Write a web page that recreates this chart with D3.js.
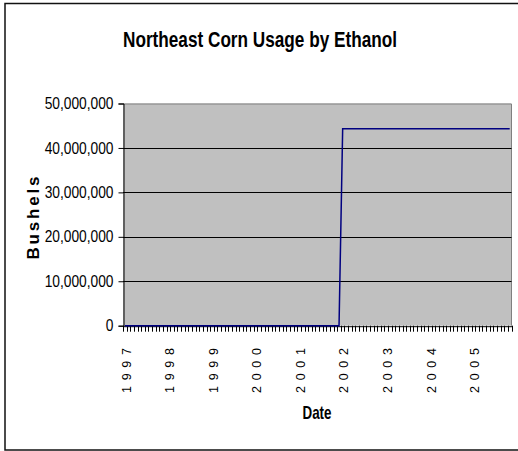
<!DOCTYPE html>
<html>
<head>
<meta charset="utf-8">
<script src="https://cdn.jsdelivr.net/npm/d3@7"></script>
<style>
html,body{margin:0;padding:0;background:#fff;overflow:hidden;}
svg{display:block;}
text{font-family:"Liberation Sans",Arial,sans-serif;fill:#000;}
</style>
</head>
<body>
<svg id="chart" width="518" height="451"></svg>
<script>
// Monthly categories, Jan 1997 – Nov 2005
const months = [
  "1997-01","1997-02","1997-03","1997-04","1997-05","1997-06","1997-07","1997-08","1997-09","1997-10","1997-11","1997-12",
  "1998-01","1998-02","1998-03","1998-04","1998-05","1998-06","1998-07","1998-08","1998-09","1998-10","1998-11","1998-12",
  "1999-01","1999-02","1999-03","1999-04","1999-05","1999-06","1999-07","1999-08","1999-09","1999-10","1999-11","1999-12",
  "2000-01","2000-02","2000-03","2000-04","2000-05","2000-06","2000-07","2000-08","2000-09","2000-10","2000-11","2000-12",
  "2001-01","2001-02","2001-03","2001-04","2001-05","2001-06","2001-07","2001-08","2001-09","2001-10","2001-11","2001-12",
  "2002-01","2002-02","2002-03","2002-04","2002-05","2002-06","2002-07","2002-08","2002-09","2002-10","2002-11","2002-12",
  "2003-01","2003-02","2003-03","2003-04","2003-05","2003-06","2003-07","2003-08","2003-09","2003-10","2003-11","2003-12",
  "2004-01","2004-02","2004-03","2004-04","2004-05","2004-06","2004-07","2004-08","2004-09","2004-10","2004-11","2004-12",
  "2005-01","2005-02","2005-03","2005-04","2005-05","2005-06","2005-07","2005-08","2005-09","2005-10","2005-11"
];
// Bushels of corn used for ethanol
const bushels = [
  0,0,0,0,0,0,0,0,0,0,0,0,
  0,0,0,0,0,0,0,0,0,0,0,0,
  0,0,0,0,0,0,0,0,0,0,0,0,
  0,0,0,0,0,0,0,0,0,0,0,0,
  0,0,0,0,0,0,0,0,0,0,0,0,
  44300000,44300000,44300000,44300000,44300000,44300000,44300000,44300000,44300000,44300000,44300000,44300000,
  44300000,44300000,44300000,44300000,44300000,44300000,44300000,44300000,44300000,44300000,44300000,44300000,
  44300000,44300000,44300000,44300000,44300000,44300000,44300000,44300000,44300000,44300000,44300000,44300000,
  44300000,44300000,44300000,44300000,44300000,44300000,44300000,44300000,44300000,44300000,44300000
];
const xTickMonths = ["1997-01","1998-01","1999-01","2000-01","2001-01","2002-01","2003-01","2004-01","2005-01"];
const xTickLabels = ["1997","1998","1999","2000","2001","2002","2003","2004","2005"];
const yTicks = [0,10000000,20000000,30000000,40000000,50000000];

const title = "Northeast Corn Usage by Ethanol";
const xTitle = "Date";
const yTitle = "Bushels";

const svg = d3.select("#chart");
const L = 123, R = 511.5, T = 103.5, B = 325.7;

// chart area border (right edge lies outside the picture)
svg.append("rect").attr("x",5).attr("y",3.5).attr("width",600).attr("height",446.5)
  .attr("fill","#fff").attr("stroke","#111").attr("stroke-width",1.5);

const x = d3.scaleBand().domain(months).range([L,R]).paddingInner(0).paddingOuter(0);
const y = d3.scaleLinear().domain([0,50000000]).range([B,T]);
const cx = d => x(d) + x.bandwidth()/2;

// plot area
svg.append("rect").attr("x",L).attr("y",T).attr("width",R-L).attr("height",B-T)
  .attr("fill","#C0C0C0");
svg.append("path").attr("d",`M${L},${T+0.5}H${R}V${B}`).attr("fill","none")
  .attr("stroke","#808080").attr("stroke-width",1);

// gridlines
svg.append("g").selectAll("line").data(yTicks.filter(v=>v>0 && v<50000000)).join("line")
  .attr("x1",L).attr("x2",R).attr("y1",d=>Math.round(y(d))+0.5).attr("y2",d=>Math.round(y(d))+0.5)
  .attr("stroke","#000").attr("stroke-width",1);

// y axis
const yAxis = svg.append("g").attr("transform",`translate(${L+0.5},0)`)
  .call(d3.axisLeft(y).tickValues(yTicks).tickFormat(d3.format(",")).tickSize(5).tickPadding(5));
yAxis.select(".domain").attr("stroke","#000");
yAxis.selectAll(".tick line").attr("stroke","#000");
yAxis.selectAll(".tick text").attr("font-size",16).attr("font-family",null).attr("fill","#000")
  .each(function(){ const w=this.getComputedTextLength(); d3.select(this).attr("textLength",w*0.86).attr("lengthAdjust","spacingAndGlyphs"); });

// x axis
const xAxis = svg.append("g").attr("transform",`translate(0,${B+0.5})`)
  .call(d3.axisBottom(x).tickValues([]).tickSize(0).tickSizeOuter(0));
xAxis.select(".domain").attr("stroke","#000");
// tick marks at category boundaries
svg.append("g").selectAll("line").data(months.concat(["end"])).join("line")
  .attr("x1",(d,i)=>Math.round(L + i*x.bandwidth())+0.5)
  .attr("x2",(d,i)=>Math.round(L + i*x.bandwidth())+0.5)
  .attr("y1",B).attr("y2",B+6).attr("stroke","#000").attr("stroke-width",1);
// year labels
svg.append("g").selectAll("text").data(xTickMonths).join("text")
  .attr("transform",d=>`translate(${cx(d)+1.2},348) rotate(-90)`)
  .attr("text-anchor","end").attr("dy","0.36em").attr("font-size",12.5)
  .attr("textLength",45).attr("lengthAdjust","spacing")
  .text((d,i)=>xTickLabels[i]);

// data line
const line = d3.line().x((d,i)=>cx(months[i])).y(d=>y(d));
svg.append("path").datum(bushels).attr("d",line).attr("fill","none")
  .attr("stroke","#000080").attr("stroke-width",1.5);

// titles
svg.append("text").attr("x",260).attr("y",47.3).attr("text-anchor","middle")
  .attr("font-size",22).attr("font-weight","bold").attr("textLength",274)
  .attr("lengthAdjust","spacingAndGlyphs").text(title);
svg.append("text").attr("x",317).attr("y",419.3).attr("text-anchor","middle")
  .attr("font-size",19).attr("font-weight","bold").attr("textLength",29)
  .attr("lengthAdjust","spacingAndGlyphs").text(xTitle);
svg.append("text").attr("transform",`translate(38.5,218) rotate(-90)`).attr("text-anchor","middle")
  .attr("font-size",17).attr("font-weight","bold").attr("textLength",83)
  .attr("lengthAdjust","spacing").text(yTitle);
</script>
</body>
</html>
